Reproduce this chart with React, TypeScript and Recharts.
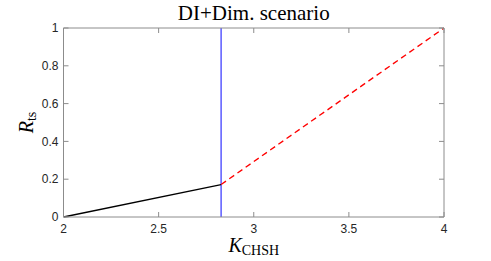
import { LineChart, Line, XAxis, YAxis, ReferenceLine, Label } from 'recharts';

// values
const kBelow = [2, 2.8284];
const rBelow = [0, 0.1716];
const kAbove = [2.8284, 4];
const rAbove = [0.1716, 1];
const kBoundary = 2.8284;

const xTicks = [2, 2.5, 3, 3.5, 4];
const yTicks = [0, 0.2, 0.4, 0.6, 0.8, 1];

const belowData = kBelow.map((k, i) => ({ k, r: rBelow[i] }));
const aboveData = kAbove.map((k, i) => ({ k, r: rAbove[i] }));

const AXIS = '#8c8c8c';
const TICK_FONT = { fontSize: 12, fill: '#262626', fontFamily: 'Liberation Sans, Arial, sans-serif' };
const SERIF = 'Liberation Serif, Times New Roman, serif';

function XLabel({ viewBox }: any) {
  const cx = viewBox.x + viewBox.width / 2;
  return (
    <text x={cx} y={252} textAnchor="middle" fontFamily={SERIF} fill="#000">
      <tspan fontSize={20} fontStyle="italic">K</tspan>
      <tspan fontSize={14} dy={3}>CHSH</tspan>
    </text>
  );
}

function YLabel({ viewBox }: any) {
  const cy = viewBox.y + viewBox.height / 2;
  return (
    <text
      x={33}
      y={cy}
      textAnchor="middle"
      transform={`rotate(-90, 33, ${cy})`}
      fontFamily={SERIF}
      fill="#000"
    >
      <tspan fontSize={20} fontStyle="italic">R</tspan>
      <tspan fontSize={14} dy={3}>ts</tspan>
    </text>
  );
}

export default function App() {
  return (
    <div style={{ position: 'absolute', left: 0, top: 0, width: 491, height: 261, background: '#fff' }}>
      <div
        style={{
          position: 'absolute',
          left: 63.5,
          width: 380.5,
          top: 2,
          textAlign: 'center',
          fontFamily: SERIF,
          fontSize: 21,
          lineHeight: '22px',
          color: '#000',
        }}
      >
        DI+Dim. scenario
      </div>
      <LineChart width={491} height={261} margin={{ top: 27, right: 46, bottom: 0, left: 0 }}>
        <XAxis
          xAxisId="bottom"
          dataKey="k"
          type="number"
          domain={[2, 4]}
          ticks={xTicks}
          allowDataOverflow
          orientation="bottom"
          height={44}
          stroke={AXIS}
          tickSize={-5}
          tickMargin={12}
          tick={TICK_FONT}
        >
          <Label content={<XLabel />} />
        </XAxis>
        <XAxis
          xAxisId="top"
          dataKey="k"
          type="number"
          domain={[2, 4]}
          ticks={xTicks}
          orientation="top"
          height={1}
          stroke={AXIS}
          tickSize={-5}
          tickFormatter={() => ''}
        />
        <YAxis
          yAxisId="left"
          type="number"
          domain={[0, 1]}
          ticks={yTicks}
          orientation="left"
          width={63.5}
          stroke={AXIS}
          tickSize={-5}
          tickMargin={10}
          tick={TICK_FONT}
        >
          <Label content={<YLabel />} />
        </YAxis>
        <YAxis
          yAxisId="right"
          type="number"
          domain={[0, 1]}
          ticks={yTicks}
          orientation="right"
          width={1}
          stroke={AXIS}
          tickSize={-5}
          tickFormatter={() => ''}
        />
        <ReferenceLine xAxisId="bottom" yAxisId="left" x={kBoundary} stroke="#4040ff" strokeWidth={1.3} />
        <Line
          xAxisId="bottom"
          yAxisId="left"
          data={belowData}
          dataKey="r"
          type="linear"
          stroke="#000"
          strokeWidth={1.3}
          dot={false}
          isAnimationActive={false}
        />
        <Line
          xAxisId="bottom"
          yAxisId="left"
          data={aboveData}
          dataKey="r"
          type="linear"
          stroke="#ff0000"
          strokeWidth={1.3}
          strokeDasharray="6 4"
          dot={false}
          isAnimationActive={false}
        />
        <Line
          xAxisId="top"
          yAxisId="right"
          data={aboveData}
          dataKey="r"
          type="linear"
          stroke="none"
          dot={false}
          legendType="none"
          isAnimationActive={false}
        />
      </LineChart>
    </div>
  );
}
